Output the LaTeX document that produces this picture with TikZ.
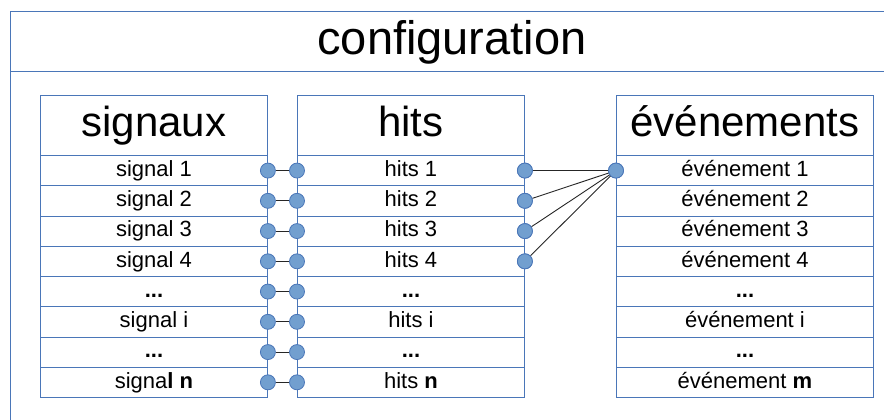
\documentclass[tikz,border=0pt]{standalone}
\usepackage{fontspec}
\setmainfont{Liberation Sans}
\definecolor{frameblue}{HTML}{4A76B8}
\definecolor{dotfill}{HTML}{729FCF}
\definecolor{dotline}{HTML}{4A76B8}
\newcommand\rowdots{\textbf{...}}
\begin{document}
\begin{tikzpicture}[x=1pt,y=-1pt,
  cell/.style={draw=frameblue,line width=0.9pt,anchor=north west,minimum height=30.25pt,inner sep=0pt,text height=16pt,text depth=4.5pt,font=\fontsize{22}{24}\selectfont},
  headcell/.style={draw=frameblue,line width=0.9pt,anchor=north west,minimum height=60pt,inner sep=0pt,text height=31pt,text depth=8pt,font=\fontsize{42}{46}\selectfont},
  dot/.style={circle,fill=dotfill,draw=dotline,line width=0.8pt,minimum size=15pt,inner sep=0pt},
  link/.style={draw=black!85,line width=0.9pt}]
\useasboundingbox (0,0) rectangle (884,420);
\clip (0,0) rectangle (884,420);
% outer frame
\draw[frameblue,line width=0.9pt] (10,11.5) rectangle (900,440);
\draw[frameblue,line width=0.9pt] (10,71.5) -- (900,71.5);
\node[font=\fontsize{47}{50}\selectfont] (title) at (452,42) {configuration};
% headers
\node[headcell,minimum width=227pt] (sh) at (40,95) {signaux};
\node[headcell,minimum width=227pt] (hh) at (297,95) {hits};
\node[headcell,minimum width=257pt] (eh) at (616,95) {événements};
% rows
\foreach \i/\s/\h/\e in {1/signal 1/hits 1/événement 1,
  2/signal 2/hits 2/événement 2,
  3/signal 3/hits 3/événement 3,
  4/signal 4/hits 4/événement 4,
  5/\rowdots/\rowdots/\rowdots,
  6/signal i/hits i/événement i,
  7/\rowdots/\rowdots/\rowdots,
  8/{signa\textbf{l n}}/{hits \textbf{n}}/{événement \textbf{m}}}{
  \node[cell,minimum width=227pt] (s\i) at (40,{155+(\i-1)*30.25}) {\s};
  \node[cell,minimum width=227pt] (h\i) at (297,{155+(\i-1)*30.25}) {\h};
  \node[cell,minimum width=257pt] (e\i) at (616,{155+(\i-1)*30.25}) {\e};
}
% dots and links signaux-hits
\foreach \i in {1,...,8}{
  \node[dot] (sd\i) at (s\i.east) {};
  \node[dot] (hd\i) at (h\i.west) {};
  \draw[link] (sd\i) -- (hd\i);
}
% hits right dots
\foreach \i in {1,...,4}{
  \node[dot] (hr\i) at (h\i.east) {};
}
\node[dot] (ed1) at (e1.west) {};
\foreach \i in {1,...,4}{
  \draw[link] (hr\i) -- (ed1.center);
}
\foreach \i in {1,...,4}{
  \node[dot] at (hr\i) {};
}
\node[dot] at (ed1) {};
\end{tikzpicture}
\end{document}
